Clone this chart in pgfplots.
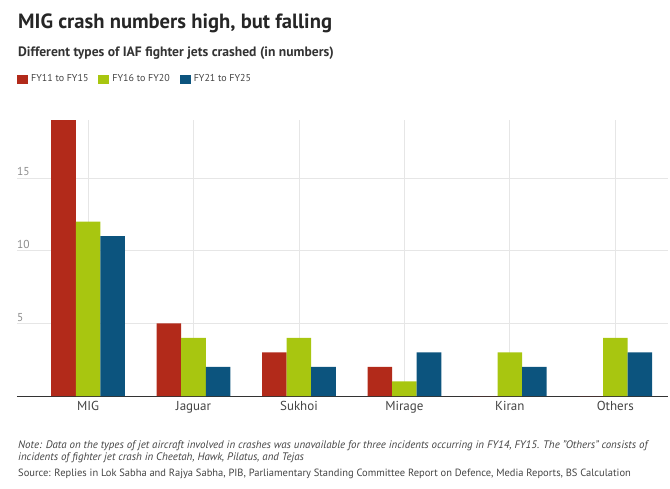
\documentclass[border=0pt]{standalone}
\usepackage{fontspec}
\setmainfont{PT Sans}
\usepackage{pgfplots}
\pgfplotsset{compat=1.18}
\definecolor{crashred}{RGB}{178,42,26}
\definecolor{crashgreen}{RGB}{168,198,16}
\definecolor{crashblue}{RGB}{12,84,126}
\definecolor{gridgray}{RGB}{230,230,230}
\definecolor{inkgray}{RGB}{68,68,68}

\begin{document}
\begin{tikzpicture}[x=1pt,y=1pt]
\path[use as bounding box] (0,0) rectangle (670,488);
\node[anchor=base west, inner sep=0, text=black!85] at (18,459)
  {\fontsize{20.6}{24}\selectfont\bfseries MIG crash numbers high, but falling};
\node[anchor=base west, inner sep=0, text=black!80] at (18,431)
  {\fontsize{13.6}{16}\selectfont\bfseries Different types of IAF fighter jets crashed (in numbers)};
\node[anchor=base west, inner sep=0, text=inkgray] at (18,40)
  {\fontsize{10.9}{12}\selectfont\itshape Note: Data on the types of jet aircraft involved in crashes was unavailable for three incidents occurring in FY14, FY15. The "Others" consists of};
\node[anchor=base west, inner sep=0, text=inkgray] at (18,28)
  {\fontsize{10.9}{12}\selectfont\itshape incidents of fighter jet crash in Cheetah, Hawk, Pilatus, and Tejas};
\node[anchor=base west, inner sep=0, text=inkgray] at (18,12)
  {\fontsize{10.5}{12}\selectfont Source: Replies in Lok Sabha and Rajya Sabha, PIB, Parliamentary Standing Committee Report on Defence, Media Reports, BS Calculation};
\begin{axis}[
    at={(17pt,92pt)}, anchor=south west,
    scale only axis, width=651pt, height=276pt,
    ybar, bar width=0.233,
    xmin=-0.674, xmax=5.5, ymin=0, ymax=19,
    xtick={0,1,2,3,4,5},
    xticklabels={MIG,Jaguar,Sukhoi,Mirage,Kiran,Others},
    ytick={5,10,15},
    xmajorgrids, ymajorgrids,
    grid style={gridgray, line width=0.8pt},
    axis x line*=bottom, axis y line*=left,
    y axis line style={draw=none},
    x axis line style={black!80, line width=0.9pt, -},
    major tick length=0pt,
    /pgf/number format/assume math mode=true,
    xticklabel style={font=\fontsize{13}{15}\selectfont, text=inkgray, yshift=-2pt},
    yticklabel style={font=\fontsize{11.5}{13}\selectfont, text=black!45,
        anchor=south west, inner sep=0pt, yshift=2pt},
    legend image code/.code={\fill[#1] (0pt,-4.5pt) rectangle (11pt,4.5pt);},
    legend style={at={(0,1.172)}, anchor=north west, draw=none, fill=none,
        legend columns=-1, font=\fontsize{10}{12}\selectfont, text=inkgray,
        inner sep=0pt,
        /tikz/every odd column/.append style={column sep=1pt},
        /tikz/every even column/.append style={column sep=8pt}},
]
\addplot[fill=crashred, draw=none, bar shift=-0.233] coordinates {
    (0,19) (1,5) (2,3) (3,2) (4,0) (5,0)
};
\addplot[fill=crashgreen, draw=none, bar shift=0] coordinates {
    (0,12) (1,4) (2,4) (3,1) (4,3) (5,4)
};
\addplot[fill=crashblue, draw=none, bar shift=0.233] coordinates {
    (0,11) (1,2) (2,2) (3,3) (4,2) (5,3)
};
\legend{FY11 to FY15, FY16 to FY20, FY21 to FY25}
\end{axis}
\end{tikzpicture}
\end{document}
